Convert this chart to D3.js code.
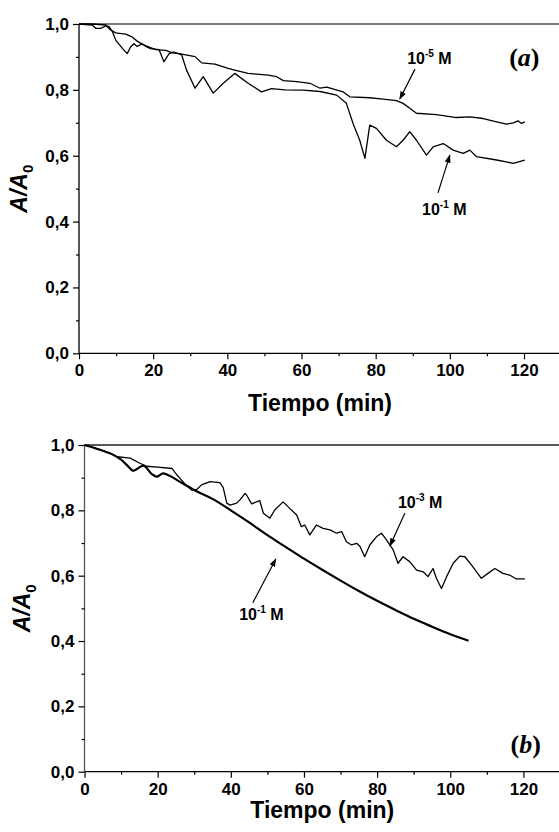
<!DOCTYPE html>
<html><head><meta charset="utf-8">
<script src="https://cdn.jsdelivr.net/npm/d3@7"></script>
<style>html,body{margin:0;padding:0;background:#fff;}svg{display:block;}</style>
</head><body>
<svg id="chart" width="559" height="832"></svg>
<script>
// ---------------- data ----------------
const xTicks = [0, 20, 40, 60, 80, 100, 120];
const xMinorTicks = [10, 30, 50, 70, 90, 110];
const yTicks = [0, 0.2, 0.4, 0.6, 0.8, 1.0];
const yMinorTicks = [0.1, 0.3, 0.5, 0.7, 0.9];
const xTitle = "Tiempo (min)";

// panel (a)
const a_t_1e5 = [0,3.6,7.2,8.5,9.9,12.6,14.4,15.7,17.1,18.9,20.7,23.4,25.2,27,31.3,33.1,36.7,40.2,42,45.6,51,53.3,55.1,58.7,62.3,65,66.8,71.2,73,78.4,82,85.6,87.4,89.2,91,96.4,101.8,105.4,109,112.6,115.3,117.1,118.4,119.3,120.2];
const a_v_1e5 = [1.0,1.0,0.997,0.982,0.973,0.969,0.96,0.948,0.938,0.93,0.922,0.92,0.912,0.91,0.901,0.882,0.878,0.865,0.86,0.85,0.845,0.84,0.828,0.825,0.82,0.805,0.808,0.794,0.779,0.776,0.772,0.767,0.759,0.744,0.729,0.725,0.716,0.718,0.713,0.703,0.696,0.700,0.706,0.698,0.703];
const a_t_1e1 = [0,3.6,4.5,5.8,7.2,8.1,9,9.9,11.7,13,13.9,14.8,15.7,17.1,18,19.3,21.6,22.9,24.3,25.6,27.7,29,31.3,33.5,36.2,38.9,42,45.6,49.2,51.9,55.5,60.5,65,69.5,72.1,73.9,75.7,77.1,78.4,80.2,82.9,85.6,87.4,89.2,91,93.7,95.5,98.2,100.9,103.6,105.4,107.2,112.6,117.1,120.2];
const a_v_1e1 = [1.0,0.997,0.987,0.987,0.994,0.992,0.977,0.951,0.926,0.91,0.93,0.94,0.932,0.94,0.932,0.925,0.922,0.885,0.91,0.915,0.906,0.86,0.805,0.84,0.79,0.82,0.85,0.82,0.794,0.804,0.80,0.799,0.795,0.784,0.759,0.698,0.647,0.592,0.693,0.683,0.647,0.627,0.647,0.673,0.647,0.602,0.627,0.637,0.617,0.607,0.617,0.597,0.587,0.577,0.587];

// panel (b)
const b_t_1e3 = [0,4,7,9,12.5,15,17,20,24,25,26.1,27.5,29.3,30.7,32,34.3,37,37.9,38.9,39.8,41.6,42.5,43.9,44.3,45.7,47.9,48.9,50.7,52,54.3,56.1,58,59.3,60.2,61.6,63.4,65.2,67.1,68.9,70.3,71.6,73,74.4,75.3,76.6,78,79.8,81.2,82.6,84.4,85.7,87.1,88.9,90.8,92.6,93.9,95.3,96.2,97.6,99,100.8,102.6,104,106.2,108.5,110.3,112.2,114.4,116.2,118.1,120.4];
const b_v_1e3 = [1.0,0.987,0.975,0.964,0.96,0.945,0.935,0.932,0.928,0.912,0.898,0.88,0.862,0.864,0.878,0.888,0.885,0.870,0.822,0.816,0.822,0.832,0.852,0.847,0.82,0.83,0.791,0.776,0.801,0.826,0.806,0.786,0.75,0.755,0.725,0.755,0.745,0.74,0.73,0.735,0.704,0.694,0.699,0.69,0.658,0.694,0.719,0.73,0.709,0.679,0.638,0.658,0.643,0.617,0.612,0.597,0.622,0.592,0.561,0.597,0.638,0.66,0.658,0.627,0.592,0.607,0.622,0.607,0.602,0.59,0.59];
const b_t_1e1 = [0,4,8,10,12,13.3,16.1,18.4,19.7,21.5,23.4,26,28,30,35,40,45,50,55,60,65,70,75,80,85,90,95,100,105];
const b_v_1e1 = [1.0,0.986,0.969,0.955,0.934,0.921,0.937,0.911,0.903,0.913,0.905,0.888,0.875,0.862,0.835,0.80,0.763,0.724,0.688,0.652,0.618,0.585,0.553,0.523,0.495,0.468,0.444,0.421,0.401];

// annotations (data units)
const aLabels = [
  {base:"10", exp:"-5", unit:" M", t:88.5, v:0.88, tail:[90.6,0.863], head:[86.5,0.772]},
  {base:"10", exp:"-1", unit:" M", t:92.5, v:0.42, tail:[96.8,0.487], head:[100,0.602]}
];
const bLabels = [
  {base:"10", exp:"-3", unit:" M", t:85.7, v:0.807, tail:[87.6,0.792], head:[83.5,0.691]},
  {base:"10", exp:"-1", unit:" M", t:42.3, v:0.464, tail:[46,0.517], head:[52.3,0.651]}
];

// ---------------- drawing ----------------
const svg = d3.select("#chart");
const W = 559;
const defs = svg.append("defs");
defs.append("marker").attr("id","arr").attr("viewBox","0 0 10 10").attr("refX",9).attr("refY",5)
  .attr("markerWidth",7).attr("markerHeight",7).attr("orient","auto")
  .append("path").attr("d","M0,1.5 L10,5 L0,8.5 Z").attr("fill","#000");

const fmtY = d => d.toFixed(1).replace(".", ",");
const FONT = "'Liberation Sans', Arial, sans-serif";

function panel(cfg){
  const x = d3.scaleLinear().domain([0,130]).range(cfg.xr);
  const y = d3.scaleLinear().domain([0,1]).range(cfg.yr);
  const g = svg.append("g");

  // frame lines
  g.append("line").attr("x1",x(0)).attr("x2",W).attr("y1",y(1)).attr("y2",y(1))
    .attr("stroke",cfg.topColor).attr("stroke-width",cfg.topWidth);
  g.append("line").attr("x1",x(0)).attr("x2",W).attr("y1",y(0)).attr("y2",y(0))
    .attr("stroke","#000").attr("stroke-width",1.3);
  g.append("line").attr("x1",x(0)).attr("x2",x(0)).attr("y1",y(0)).attr("y2",y(1))
    .attr("stroke",cfg.leftColor).attr("stroke-width",1.3);

  // axes
  const xa = g.append("g").attr("transform",`translate(0,${y(0)})`)
    .call(d3.axisBottom(x).tickValues(xTicks).tickSize(6).tickPadding(5).tickFormat(d3.format("d")));
  const xm = g.append("g").attr("transform",`translate(0,${y(0)})`)
    .call(d3.axisBottom(x).tickValues(xMinorTicks).tickSize(3).tickFormat(""));
  const ya = g.append("g").attr("transform",`translate(${x(0)},0)`)
    .call(d3.axisLeft(y).tickValues(yTicks).tickSize(6).tickPadding(4).tickFormat(fmtY));
  const ym = g.append("g").attr("transform",`translate(${x(0)},0)`)
    .call(d3.axisLeft(y).tickValues(yMinorTicks).tickSize(3).tickFormat(""));
  [xa,xm,ya,ym].forEach(s=>{
    s.select(".domain").remove();
    s.selectAll(".tick line").attr("stroke","#000").attr("stroke-width",1.2);
    s.selectAll("text").attr("fill","#000").style("font-family",FONT)
      .style("font-size","17px").style("font-weight","bold");
  });

  // x title
  g.append("text").attr("x",(x(0)+x(130))/2).attr("y",cfg.xTitleY)
    .attr("text-anchor","middle").style("font-family",FONT).style("font-weight","bold")
    .style("font-size","23px").text(xTitle);

  // y title A/A0
  const yt = g.append("text")
    .attr("transform",`translate(${cfg.yTitleX},${(y(0)+y(1))/2}) rotate(-90)`)
    .attr("text-anchor","middle").style("font-family",FONT).style("font-weight","bold")
    .style("font-size","23px");
  yt.append("tspan").style("font-style","italic").text("A/A");
  yt.append("tspan").attr("dy",6).style("font-size","15px").text("0");

  // lines
  const line = d3.line().x(d=>x(d[0])).y(d=>y(d[1]));
  cfg.series.forEach(s=>{
    const pts = s.t.map((t,i)=>[t,s.v[i]]);
    g.append("path").datum(pts)
      .attr("d", line.curve(s.smooth ? d3.curveMonotoneX : d3.curveLinear))
      .attr("fill","none").attr("stroke","#000").attr("stroke-width",s.w)
      .attr("stroke-linejoin","round");
  });

  // annotations
  cfg.labels.forEach(l=>{
    const tx = g.append("text").attr("x",x(l.t)).attr("y",y(l.v))
      .style("font-family",FONT).style("font-weight","bold").style("font-size","16px");
    tx.append("tspan").text(l.base);
    tx.append("tspan").attr("dy",-7).style("font-size","10px").text(l.exp);
    tx.append("tspan").attr("dy",7).text(l.unit);
    g.append("line").attr("x1",x(l.tail[0])).attr("y1",y(l.tail[1]))
      .attr("x2",x(l.head[0])).attr("y2",y(l.head[1]))
      .attr("stroke","#000").attr("stroke-width",1.2).attr("marker-end","url(#arr)");
  });

  // panel letter
  const pl = g.append("text").attr("x",x(cfg.letterT)).attr("y",y(cfg.letterV))
    .style("font-family","'Liberation Serif','Times New Roman',serif").style("font-weight","bold")
    .style("font-size","26px");
  pl.append("tspan").text("(");
  pl.append("tspan").style("font-style","italic").text(cfg.letter);
  pl.append("tspan").text(")");
}

panel({xr:[79,561.1], yr:[353.3,24], topColor:"#7a7a7a", topWidth:2, leftColor:"#000",
  xTitleY:411, yTitleX:27, letter:"a", letterT:116, letterV:0.873, labels:aLabels,
  series:[{t:a_t_1e5,v:a_v_1e5,w:1.3},{t:a_t_1e1,v:a_v_1e1,w:1.3}]});
panel({xr:[84.5,560], yr:[771.7,445], topColor:"#222", topWidth:1.3, leftColor:"#555",
  xTitleY:818, yTitleX:30, letter:"b", letterT:116.5, letterV:0.057, labels:bLabels,
  series:[{t:b_t_1e3,v:b_v_1e3,w:1.3},{t:b_t_1e1,v:b_v_1e1,w:2.2,smooth:true}]});
</script>
</body></html>
